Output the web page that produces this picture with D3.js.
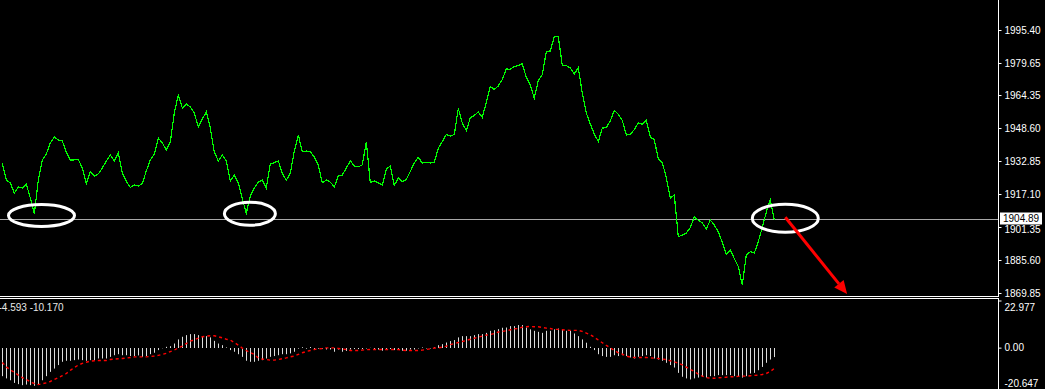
<!DOCTYPE html>
<html><head><meta charset="utf-8">
<script src="https://cdn.jsdelivr.net/npm/d3@7"></script>
<style>
html,body{margin:0;padding:0;background:#000;overflow:hidden;}
svg{display:block;}
</style></head>
<body>
<svg id="c" width="1045" height="389"></svg>
<script>
// ---- data ----
const prices = [
1931.9,1923.8,1922.4,1917.6,1920.5,1920.0,1921.9,1915.2,1907.6,1923.8,
1933.3,1936.2,1941.5,1944.3,1942.9,1942.4,1937.2,1933.3,1933.4,1933.6,
1929.5,1921.9,1927.6,1925.7,1926.7,1929.5,1932.9,1935.7,1932.9,1936.7,
1927.1,1923.3,1920.2,1921.4,1920.9,1922.1,1928.1,1933.3,1936.2,1943.8,
1941.5,1938.1,1941.9,1955.8,1964.4,1958.2,1960.1,1958.6,1955.8,1949.1,
1952.9,1956.3,1948.6,1937.2,1932.9,1935.7,1932.9,1923.3,1926.2,1922.4,
1914.7,1908.0,1916.2,1920.0,1922.8,1923.8,1920.0,1931.4,1932.1,1932.9,
1927.1,1923.6,1927.1,1937.6,1945.3,1937.2,1937.6,1937.2,1934.8,1931.0,
1922.4,1923.8,1922.8,1920.5,1925.7,1926.2,1929.5,1932.9,1930.5,1930.1,
1931.0,1941.9,1922.6,1923.3,1922.5,1921.4,1929.0,1930.5,1921.2,1924.8,
1923.1,1924.0,1927.9,1931.9,1934.6,1931.9,1932.2,1931.9,1932.4,1938.9,
1942.1,1945.5,1944.8,1945.5,1958.0,1951.0,1947.4,1953.4,1954.6,1956.3,
1953.6,1961.0,1968.4,1967.0,1968.7,1971.8,1976.8,1976.6,1978.0,1978.4,
1979.3,1972.8,1969.1,1962.9,1971.2,1974.1,1985.1,1985.4,1992.3,1992.2,
1978.5,1978.4,1977.3,1974.5,1977.4,1965.1,1955.8,1950.5,1945.8,1942.1,
1948.6,1948.8,1952.0,1957.0,1955.1,1952.2,1945.3,1945.6,1947.9,1951.1,
1950.4,1952.2,1944.3,1943.1,1933.7,1932.2,1924.8,1915.2,1916.6,1896.7,
1897.5,1898.4,1901.1,1906.1,1904.6,1903.3,1900.4,1904.7,1902.3,1899.1,
1894.0,1888.1,1890.4,1886.3,1882.4,1873.7,1888.0,1889.6,1888.9,1894.4,
1901.1,1908.5,1914.3,1904.89
];
const macdHist = [
-13.9,-15.0,-15.9,-17.2,-17.8,-18.3,-18.0,-18.3,-18.6,-18.0,
-15.9,-13.9,-11.8,-10.2,-8.5,-6.9,-6.4,-6.4,-6.1,-5.8,
-6.1,-6.4,-6.1,-6.1,-5.3,-5.3,-5.3,-4.5,-3.7,-3.2,
-3.7,-3.7,-4.1,-4.1,-3.8,-4.5,-4.1,-3.2,-2.5,-1.2,
-0.3,0.4,0.7,2.0,4.0,5.3,6.1,6.6,6.6,6.1,
5.6,5.6,5.0,3.3,2.0,1.2,0.1,-1.2,-2.0,-3.2,
-4.5,-6.4,-6.9,-6.9,-6.4,-6.1,-5.3,-4.5,-4.1,-3.7,
-3.2,-3.2,-2.8,-2.0,-0.5,0.2,-0.5,0.3,-0.9,-0.5,
-0.5,-0.9,-0.9,-2.0,-0.9,-2.0,-1.6,-0.9,-0.7,-0.7,
-0.7,-0.4,-0.1,-0.7,-0.9,-1.5,-0.9,-0.7,-1.2,-0.7,
-1.5,-1.5,-0.9,-0.9,-0.4,0.1,-0.4,-0.4,0.2,1.2,
1.7,2.5,3.2,3.7,5.0,5.6,5.6,5.6,6.1,6.6,
6.6,7.2,8.2,8.5,9.0,9.7,9.8,10.5,10.5,11.0,
11.0,9.8,8.9,8.2,7.7,7.2,8.2,8.2,8.9,9.3,
8.9,8.2,8.2,6.9,5.6,4.0,2.4,0.4,-1.2,-3.2,
-4.1,-4.5,-4.5,-3.7,-4.1,-3.7,-4.1,-4.8,-5.3,-4.5,
-4.1,-3.7,-4.1,-5.3,-5.8,-6.4,-7.4,-8.5,-9.7,-12.3,
-14.2,-15.0,-15.5,-15.0,-14.6,-14.2,-14.6,-13.9,-13.9,-13.4,
-13.4,-13.4,-13.4,-13.9,-13.9,-14.6,-13.9,-12.6,-12.3,-11.0,
-9.4,-7.4,-5.8,-4.593
];
const macdSignal = [
-7.2,-9.4,-10.8,-12.1,-13.4,-14.6,-15.5,-16.7,-17.5,-18.0,
-17.6,-17.2,-16.5,-15.5,-14.6,-13.7,-12.6,-11.1,-9.7,-8.5,
-7.7,-7.1,-6.6,-6.4,-6.3,-6.3,-6.3,-5.8,-5.6,-5.4,
-5.3,-5.1,-4.8,-4.5,-4.5,-4.5,-4.5,-4.3,-4.1,-3.8,
-3.3,-2.8,-1.9,-1.2,-0.1,0.7,2.0,3.2,3.8,4.6,
5.3,5.6,5.8,5.8,5.3,4.8,4.1,3.7,2.5,1.2,
-0.2,-1.4,-2.4,-3.3,-5.1,-5.6,-5.8,-6.1,-6.1,-5.8,
-5.4,-5.0,-4.5,-4.1,-3.3,-2.5,-1.9,-1.4,-0.9,-0.6,
-0.4,-0.1,-0.1,-0.1,-0.4,-0.7,-0.9,-1.4,-1.4,-1.4,
-1.2,-1.0,-0.9,-0.9,-0.9,-0.9,-0.9,-0.9,-0.9,-0.9,
-1.2,-1.4,-1.4,-1.4,-1.4,-1.2,-0.9,-0.6,-0.2,-0.1,
0.2,0.7,1.5,2.0,2.5,3.0,3.5,4.1,4.6,5.1,
5.6,6.1,6.4,6.9,7.6,7.9,8.2,8.7,9.2,9.3,
10.0,10.2,10.3,10.2,10.2,9.8,9.5,9.3,8.9,8.9,
8.7,8.5,8.4,8.4,8.4,7.9,7.1,6.3,5.1,3.7,
2.4,1.1,-0.1,-1.4,-2.5,-3.2,-4.1,-4.6,-4.8,-4.8,
-4.8,-4.8,-5.0,-5.1,-5.3,-5.6,-5.8,-6.4,-6.9,-7.6,
-8.4,-9.5,-10.6,-11.6,-12.9,-13.9,-14.6,-14.9,-14.9,-14.7,
-14.6,-14.4,-14.2,-14.2,-14.0,-13.9,-13.9,-13.7,-13.5,-13.4,
-13.1,-12.6,-11.6,-10.17
];
const priceTicks = [1995.40,1979.65,1964.35,1948.60,1932.85,1917.10,1901.35,1885.60,1869.85];
const priceDomain = [1869.85,1995.40];
const bidPrice = 1904.89;
const macdDomain = [-20.647,22.977];
const macdTicks = [22.977,0,-20.647];
const macdTickLabels = ["22.977","0.00","-20.647"];
const macdLabel = "-4.593 -10.170";
// annotations in data space: bar index + price
const ellipses = [
  {i:9.8,  p:1906.85, rx:33,   ry:11},
  {i:61.9, p:1907.7,  rx:25.5, ry:11.5},
  {i:195.75,p:1905.5, rx:33,   ry:14}
];
const arrow = {from:{i:195.75,p:1906.0}, to:{i:211.2,p:1869.4}};

// ---- layout ----
const W=1045, H=389, axisX=998.5;
const svg = d3.select("#c");
const font = "'Liberation Sans', Arial, sans-serif";

const x = d3.scaleLinear().domain([0,prices.length-1]).range([2.3, 2.3+4*(prices.length-1)]);
const yP = d3.scaleLinear().domain(priceDomain).range([293,30]);
const yM = d3.scaleLinear().domain(macdDomain).range([390,300.5]);

// bid line
const yb = Math.floor(yP(bidPrice))+0.5;
svg.append("line").attr("x1",0).attr("x2",axisX).attr("y1",yb).attr("y2",yb)
  .attr("stroke","#a8a8a8").attr("stroke-width",1);

// price line
svg.append("path").datum(prices)
  .attr("d", d3.line().x((d,i)=>x(i)).y(d=>yP(d)))
  .attr("fill","none").attr("stroke","#00ff00").attr("stroke-width",1.2)
  .attr("shape-rendering","crispEdges");

// ellipses
svg.selectAll("ellipse.ann").data(ellipses).join("ellipse")
  .attr("cx",d=>x(d.i)).attr("cy",d=>yP(d.p)).attr("rx",d=>d.rx).attr("ry",d=>d.ry)
  .attr("fill","none").attr("stroke","#fff").attr("stroke-width",3);

// arrow
const ax1=x(arrow.from.i), ay1=yP(arrow.from.p), ax2=x(arrow.to.i), ay2=yP(arrow.to.p);
const ang=Math.atan2(ay2-ay1, ax2-ax1), hl=13, hw=6;
const bx=ax2-hl*Math.cos(ang), by=ay2-hl*Math.sin(ang);
svg.append("line").attr("x1",ax1).attr("y1",ay1).attr("x2",bx).attr("y2",by)
  .attr("stroke","#ff0000").attr("stroke-width",3);
svg.append("path")
  .attr("d",`M${ax2},${ay2}L${bx+hw*Math.sin(ang)},${by-hw*Math.cos(ang)}L${bx-hw*Math.sin(ang)},${by+hw*Math.cos(ang)}Z`)
  .attr("fill","#ff0000");

// separators and borders
[296.5,298.5].forEach(yy=>svg.append("line").attr("x1",0).attr("x2",999).attr("y1",yy).attr("y2",yy)
  .attr("stroke","#fff").attr("stroke-width",1));
svg.append("line").attr("x1",axisX).attr("x2",axisX).attr("y1",0).attr("y2",296.5).attr("stroke","#fff");
svg.append("line").attr("x1",axisX).attr("x2",axisX).attr("y1",298.5).attr("y2",H).attr("stroke","#fff");

// price axis
const pAxis = svg.append("g").attr("transform",`translate(${axisX},0)`)
  .call(d3.axisRight(yP).tickValues(priceTicks).tickFormat(d3.format(".2f")).tickSize(3).tickPadding(3));
pAxis.select(".domain").remove();
pAxis.selectAll("line").attr("stroke","#fff");
pAxis.selectAll("text").attr("fill","#fff").attr("font-family",font).attr("font-size",10)
  .attr("dy", d => d === 1901.35 ? "0.55em" : "0.32em");

// bid label
svg.append("rect").attr("x",1000).attr("y",yb-7).attr("width",42).attr("height",12).attr("fill","#fff");
svg.append("text").attr("x",1003).attr("y",yb-1).attr("dy","0.32em").text(d3.format(".2f")(bidPrice))
  .attr("fill","#000").attr("font-family",font).attr("font-size",10);

// MACD histogram
const y0 = Math.round(yM(0));
svg.append("g").selectAll("line").data(macdHist).join("line")
  .attr("x1",(d,i)=>Math.round(x(i))+0.5).attr("x2",(d,i)=>Math.round(x(i))+0.5)
  .attr("y1",y0).attr("y2",d=>yM(d))
  .attr("stroke","#dcdcdc").attr("stroke-width",1);

// signal
svg.append("path").datum(macdSignal)
  .attr("d", d3.line().x((d,i)=>x(i)).y(d=>yM(d)))
  .attr("fill","none").attr("stroke","#ff0000").attr("stroke-width",1.4)
  .attr("stroke-dasharray","3,3");

// MACD axis
const mAxis = svg.append("g").attr("transform",`translate(${axisX},0)`)
  .call(d3.axisRight(yM).tickValues(macdTicks).tickFormat((d,i)=>macdTickLabels[i]).tickSize(3).tickPadding(3));
mAxis.select(".domain").remove();
mAxis.selectAll("line").attr("stroke","#fff");
mAxis.selectAll("text").attr("fill","#fff").attr("font-family",font).attr("font-size",10)
  .attr("dy",(d,i)=> i===0 ? "1.0em" : (i===2 ? "-0.4em" : "0.32em"));

// MACD label
svg.append("text").attr("x",-1.5).attr("y",307).attr("dy","0.35em").text(macdLabel)
  .attr("fill","#e8e8e8").attr("font-family",font).attr("font-size",10);
</script>
</body></html>
